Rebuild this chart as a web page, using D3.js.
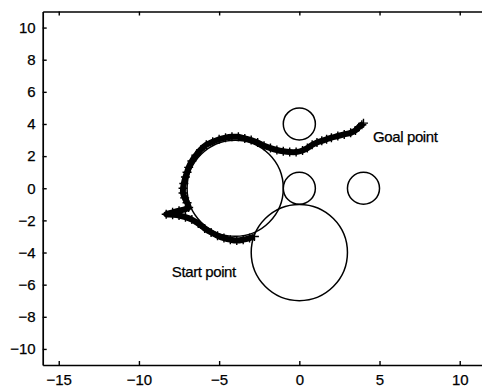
<!DOCTYPE html>
<html>
<head>
<meta charset="utf-8">
<script src="https://cdn.jsdelivr.net/npm/d3@7"></script>
<style>
  body { margin: 0; background: #fff; }
  svg { display: block; font-family: "Liberation Sans", Arial, sans-serif; }
</style>
</head>
<body>
<svg id="chart" width="482" height="388"></svg>
<script>
// obstacles (cx, cy, r)
const obstacles = [
  { cx: 0, cy: 4, r: 1 },
  { cx: 0, cy: 0, r: 1 },
  { cx: 4, cy: 0, r: 1 },
  { cx: -4, cy: 0, r: 3 },
  { cx: 0, cy: -4, r: 3 }
]

// robot path, start -> goal
const pathX = [-2.8, -3.1, -3.5, -3.9, -4.3, -4.7, -5.1, -5.5, -5.9, -6.3, -6.7, -7.1, -7.5, -7.9, -8.3,
  -7.9, -7.5, -7.1, -6.9,
  -7.0, -7.15, -7.25, -7.25, -7.2, -7.1, -7.0, -6.9, -6.7, -6.45, -6.15, -5.8, -5.4, -5.0, -4.6, -4.2,
  -3.8, -3.4, -3.0, -2.6, -2.2, -1.8, -1.4, -1.0, -0.6, -0.2, 0.2, 0.5, 0.8, 1.1, 1.4, 1.7, 2.0, 2.4,
  2.8, 3.2, 3.5, 3.7, 3.9, 4.0]
const pathY = [-3.0, -3.1, -3.2, -3.25, -3.2, -3.1, -2.95, -2.75, -2.5, -2.2, -1.95, -1.8, -1.7, -1.65, -1.62,
  -1.5, -1.4, -1.3, -1.2,
  -0.9, -0.6, -0.3, 0, 0.3, 0.7, 1.0, 1.3, 1.7, 2.05, 2.4, 2.7, 2.9, 3.05, 3.15, 3.2,
  3.2, 3.1, 3.0, 2.85, 2.65, 2.5, 2.38, 2.3, 2.25, 2.25, 2.35, 2.5, 2.7, 2.85, 2.95, 3.05, 3.15, 3.25,
  3.35, 3.45, 3.6, 3.8, 3.95, 4.05]

const xTicks = [-15, -10, -5, 0, 5, 10]
const yTicks = [-10, -8, -6, -4, -2, 0, 2, 4, 6, 8, 10]

const labels = [
  { text: 'Goal point', x: 4.6, y: 2.85 },
  { text: 'Start point', x: -7.95, y: -5.55 }
]

const svg = d3.select('#chart')
const x = d3.scaleLinear().domain([-16, 12]).range([42.7, 491.8])
const y = d3.scaleLinear().domain([-11, 11]).range([365, 11.5])

//axes (ticks point inward, like matlab)
const gx = svg.append('g').attr('transform', 'translate(0,' + y(-11) + ')')
  .call(d3.axisBottom(x).tickValues(xTicks).tickSizeInner(-4).tickSizeOuter(0).tickPadding(9))
const gTop = svg.append('g').attr('transform', 'translate(0,' + y(11) + ')')
  .call(d3.axisTop(x).tickValues(xTicks).tickSizeInner(-4).tickSizeOuter(0).tickFormat(''))
const gy = svg.append('g').attr('transform', 'translate(' + x(-16) + ',0)')
  .call(d3.axisLeft(y).tickValues(yTicks).tickSizeInner(-4).tickSizeOuter(0).tickPadding(7))

;[gx, gTop, gy].forEach(g => {
  g.select('.domain').attr('stroke', '#000').attr('stroke-width', 1.7)
  g.selectAll('.tick line').attr('stroke', '#000').attr('stroke-width', 1.4)
  g.selectAll('.tick text').attr('fill', '#000').style('font-size', '15px')
    .style('font-family', '"Liberation Sans", Arial, sans-serif')
    .attr('stroke', '#000').attr('stroke-width', 0.25)
})

const plot = svg.append('g')

plot.selectAll('circle.obs')
  .data(obstacles)
  .join('circle')
  .attr('class', 'obs')
  .attr('cx', d => x(d.cx))
  .attr('cy', d => y(d.cy))
  .attr('r', d => x(d.r) - x(0))
  .attr('fill', 'none')
  .attr('stroke', '#000')
  .attr('stroke-width', 1.5)

const pts = pathX.map((v, i) => [v, pathY[i]])

plot.append('path')
  .datum(pts)
  .attr('d', d3.line().x(d => x(d[0])).y(d => y(d[1])).curve(d3.curveCatmullRom))
  .attr('fill', 'none')
  .attr('stroke', '#000')
  .attr('stroke-width', 6)
  .attr('stroke-linejoin', 'round')

plot.selectAll('path.mark')
  .data(pts)
  .join('path')
  .attr('class', 'mark')
  .attr('transform', d => 'translate(' + x(d[0]) + ',' + y(d[1]) + ')')
  .attr('d', 'M-4.5,0H4.5M0,-4.5V4.5')
  .attr('stroke', '#000')
  .attr('stroke-width', 1.4)

plot.selectAll('text.lbl')
  .data(labels)
  .join('text')
  .attr('class', 'lbl')
  .attr('x', d => x(d.x))
  .attr('y', d => y(d.y))
  .attr('fill', '#000')
  .attr('stroke', '#000')
  .attr('stroke-width', 0.25)
  .style('font-size', '15px')
  .style('letter-spacing', '-0.4px')
  .text(d => d.text)
</script>
</body>
</html>
